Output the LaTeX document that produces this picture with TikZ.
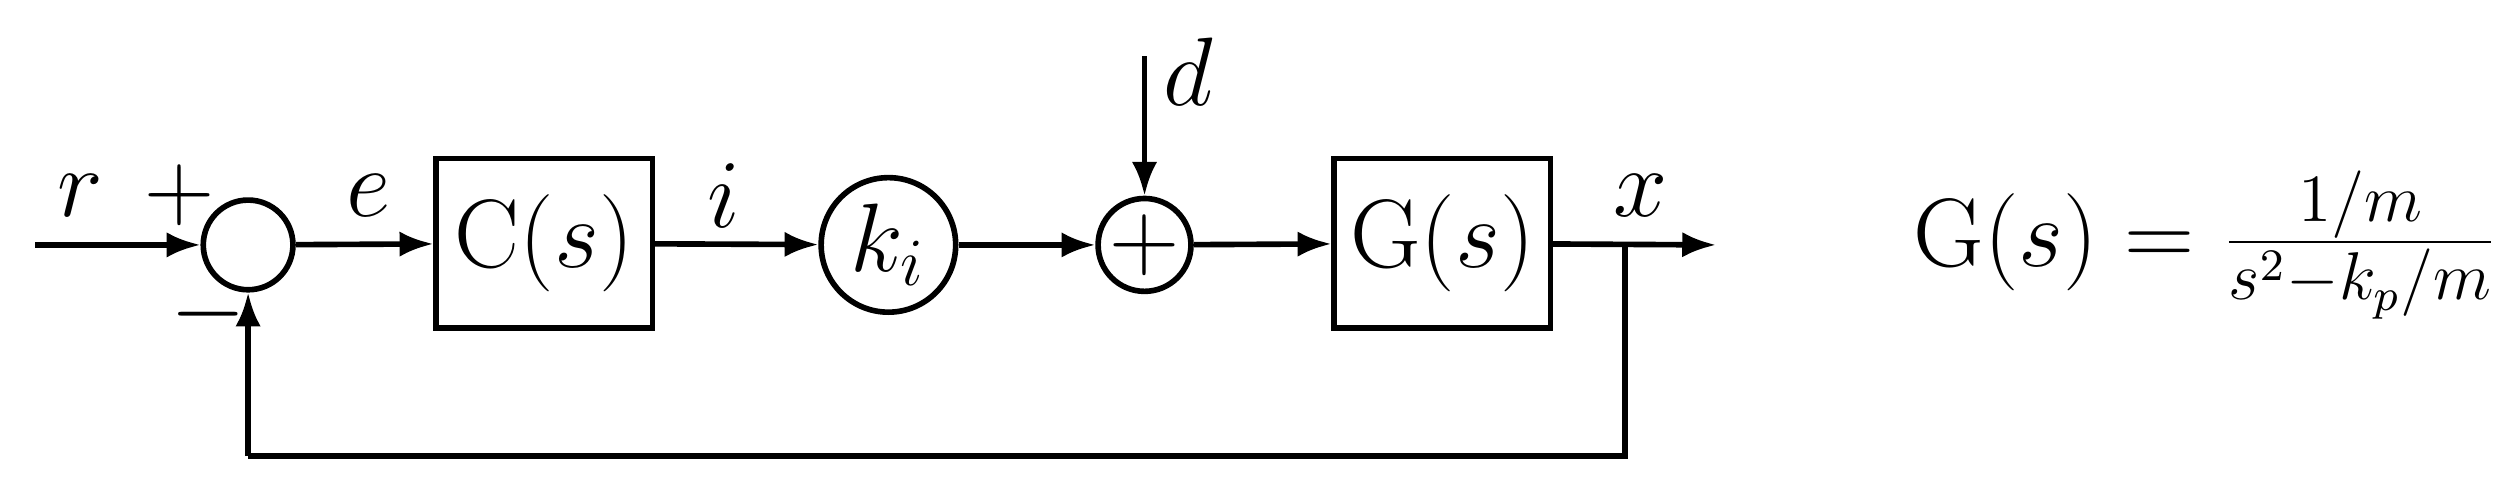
\documentclass[tikz,border=0pt]{standalone}
\usetikzlibrary{arrows.meta}
\begin{document}
\begin{tikzpicture}[x=0.01cm,y=-0.01cm,
  every node/.style={font=\fontsize{17}{20}\selectfont},
  blk/.style={draw,line width=1pt,minimum width=1.35cm,minimum height=1.06cm,inner sep=0pt},
  sm/.style={draw,line width=1pt,circle,minimum size=0.56cm,inner sep=0pt},
  lbl/.style={inner sep=0pt},
  conn/.style={line width=1pt,-{Latex[length=6pt,width=4.5pt]}},
  ln/.style={line width=1pt}]
\useasboundingbox (0,0) rectangle (1568,309);
\coordinate (in) at (22,153);
\node[sm] (s1) at (155,153) {};
\node[blk] (C) at (340,152) {$\mathrm{C}(s)$};
\node[sm,minimum size=0.84cm] (k) at (555,153) {$k_i$};
\node[sm] (s2) at (715,153) {$+$};
\node[blk] (G) at (901,152) {$\mathrm{G}(s)$};
\coordinate (tap) at (1015,153);
\coordinate (out) at (1072,153);
\coordinate (dtop) at (715,35);
\coordinate (b1) at (1015,285);
\coordinate (b2) at (155,285);
\draw[conn] (in) -- (s1);
\draw[conn] (s1) -- (C);
\draw[conn] (C) -- (k);
\draw[conn] (k) -- (s2);
\draw[conn] (s2) -- (G);
\draw[conn] (G) -- (out);
\draw[conn] (dtop) -- (s2);
\draw[ln] (tap) -- (b1) -- (b2);
\draw[conn] (b2) -- (s1);
\node[lbl] (lr) at (50,122) {$r$};
\node[lbl] (lp) at (112,122) {$+$};
\node[lbl] (lm) at (130,196) {$-$};
\node[lbl] (le) at (230,122) {$e$};
\node[lbl] (li) at (452,122) {$i$};
\node[lbl] (ld) at (742,45) {$d$};
\node[lbl] (lx) at (1025,122) {$x$};
\node[lbl] (eq) at (1378,153) {$\mathrm{G}(s) = \frac{1/m}{s^2-k_p/m}$};
\end{tikzpicture}
\end{document}
